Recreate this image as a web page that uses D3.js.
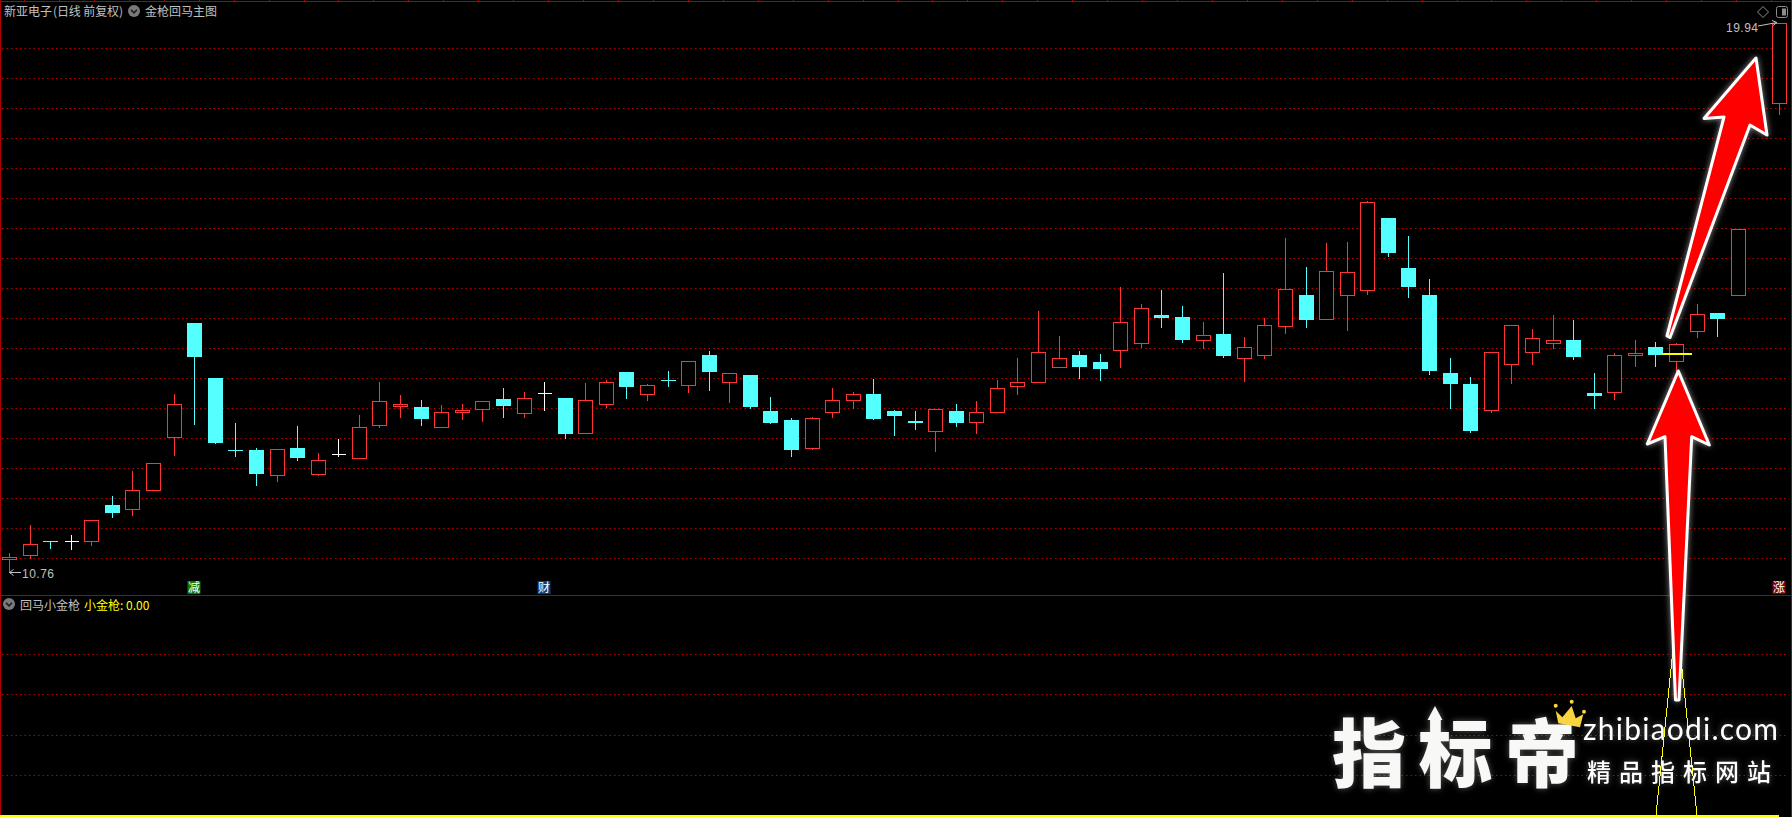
<!DOCTYPE html>
<html lang="zh">
<head>
<meta charset="utf-8">
<title>新亚电子 日线 前复权</title>
<script src="https://cdn.jsdelivr.net/npm/d3@7/dist/d3.min.js"></script>
<style>
html,body{margin:0;padding:0;background:#000;overflow:hidden}
svg{display:block}
text{font-family:"Noto Sans CJK SC","Noto Sans",sans-serif}
</style>
</head>
<body>
<svg id="chart" width="1792" height="817"></svg>
<script>
// ---- data (index 85 lies under the annotation arrow) ----
const opens = [10.98,11.05,11.28,11.28,11.28,11.88,11.82,12.14,13.01,14.92,
  14.00,12.80,12.80,12.38,12.83,12.40,12.74,12.67,13.21,13.54,
  13.52,13.18,13.44,13.49,13.65,13.41,13.75,13.67,13.09,13.57,
  14.10,13.73,13.97,13.89,14.38,13.94,14.05,13.45,13.30,12.84,
  13.44,13.64,13.73,13.45,13.28,13.11,13.45,13.26,13.44,13.86,
  13.93,14.18,14.38,14.27,14.46,14.58,15.05,15.02,14.63,14.73,
  14.33,14.38,14.86,15.38,14.99,15.38,15.46,16.67,15.83,15.38,
  14.08,13.90,13.46,14.23,14.44,14.59,14.63,13.75,13.76,14.38,
  14.52,14.29,14.79,15.08,15.38,null,18.59];
const closes = [11.01,11.24,11.27,11.28,11.63,11.75,12.14,12.58,13.56,14.35,
  12.92,12.79,12.40,12.81,12.67,12.63,12.74,13.19,13.61,13.56,
  13.32,13.43,13.46,13.61,13.53,13.66,13.75,13.07,13.64,13.94,
  13.85,13.88,13.96,14.28,14.10,14.08,13.52,13.25,12.80,13.34,
  13.64,13.74,13.32,13.37,13.25,13.48,13.25,13.44,13.84,13.94,
  14.43,14.33,14.18,14.15,14.93,15.16,15.00,14.63,14.71,14.37,
  14.51,14.88,15.49,14.97,15.78,15.76,16.94,16.08,15.52,14.12,
  13.90,13.12,14.43,14.88,14.66,14.63,14.35,13.70,14.39,14.41,
  14.38,14.56,15.06,14.98,16.48,null,19.92];
const highs = [11.10,11.57,11.30,11.40,11.65,12.05,12.47,12.58,13.75,14.93,
  14.00,13.27,12.85,12.83,13.22,12.77,13.00,13.40,13.95,13.73,
  13.65,13.57,13.58,13.61,13.85,13.78,13.95,13.67,13.93,13.98,
  14.10,13.92,14.13,14.28,14.47,14.08,14.07,13.70,13.35,13.37,
  13.85,13.78,14.00,13.48,13.47,13.48,13.58,13.63,13.98,14.35,
  15.13,14.72,14.47,14.42,15.53,15.25,15.48,15.22,14.95,15.77,
  14.70,15.02,16.35,15.87,16.27,16.28,16.97,16.68,16.38,15.67,
  14.35,14.03,14.43,14.90,14.83,15.07,14.98,14.10,14.43,14.65,
  14.62,14.60,15.25,15.08,16.48,null,19.94];
const lows = [10.76,11.00,11.17,11.15,11.22,11.68,11.72,12.14,12.72,13.23,
  12.92,12.70,12.22,12.28,12.63,12.38,12.70,12.67,13.18,13.35,
  13.22,13.18,13.32,13.28,13.35,13.35,13.47,13.00,13.09,13.52,
  13.67,13.63,13.87,13.77,13.80,13.60,13.50,13.25,12.70,12.82,
  13.35,13.50,13.32,13.05,13.15,12.78,13.20,13.08,13.44,13.73,
  13.93,14.18,14.00,13.97,14.18,14.52,14.85,14.60,14.50,14.35,
  13.95,14.33,14.75,14.85,14.99,14.80,15.40,16.03,15.35,14.07,
  13.50,13.10,13.43,13.92,14.23,14.50,14.32,13.50,13.65,14.20,
  14.20,14.10,14.68,14.70,15.38,null,18.40];

// lower panel "小金枪" indicator
const gun = [0,0,0,0,0,0,0,0,0,0,0,0,0,0,0,0,0,0,0,0,0,0,0,0,0,0,0,0,0,0,
  0,0,0,0,0,0,0,0,0,0,0,0,0,0,0,0,0,0,0,0,0,0,0,0,0,0,0,0,0,0,
  0,0,0,0,0,0,0,0,0,0,0,0,0,0,0,0,0,0,0,0,0,1,0,0,0,0,0];

const priceTicks = [11,11.5,12,12.5,13,13.5,14,14.5,15,15.5,16,16.5,17,17.5,18,18.5,19,19.5];
const gunTicks = [0.2,0.4,0.6,0.8];
const signalIndex = [9,26,86];
const signalText = ["减","财","涨"];
const goldLevel = 14.40, goldIndex = 81;
const minPrice = 10.76, maxPrice = 19.94;

// ---- scales ----
const svg = d3.select("#chart");
const x = d3.scaleLinear().domain([0,86]).range([9.5,1779.4]);
const y = d3.scaleLinear().domain([11,20]).range([558,18]);
const yGun = d3.scaleLinear().domain([0,1]).range([816,615]);
const cx = i => Math.floor(x(i)) + 0.5;
const cy = p => Math.round(y(p)) + 0.5;

const RED="#ff3434", CYAN="#54ffff", WHITE="#ffffff", GRID="#b40000", BORDER="#b00000", GREY="#c0c0c0", YEL="#ffff00";

// ---- frame ----
const frame = svg.append("g").attr("shape-rendering","crispEdges");
frame.append("rect").attr("width",1792).attr("height",817).attr("fill","#000");
frame.append("line").attr("x1",0).attr("x2",1792).attr("y1",1.5).attr("y2",1.5).attr("stroke",BORDER);
frame.append("line").attr("x1",0).attr("x2",1792).attr("y1",595.5).attr("y2",595.5).attr("stroke",BORDER);
frame.append("line").attr("x1",0.5).attr("x2",0.5).attr("y1",0).attr("y2",817).attr("stroke",BORDER);
frame.append("line").attr("x1",1791.5).attr("x2",1791.5).attr("y1",0).attr("y2",817).attr("stroke",BORDER);
frame.selectAll("line.tick").data(d3.range(24,1792,34.94)).join("line").attr("class","tick")
  .attr("x1",d=>Math.round(d)+.5).attr("x2",d=>Math.round(d)+.5).attr("y1",0).attr("y2",2).attr("stroke",BORDER);

// ---- grid ----
const grid = svg.append("g").attr("stroke",GRID).attr("stroke-dasharray","1.5 3").attr("stroke-width",1);
grid.selectAll("line.p").data(priceTicks).join("line").attr("class","p")
  .attr("x1",2).attr("x2",1787).attr("y1",d=>Math.round(y(d))+.5).attr("y2",d=>Math.round(y(d))+.5);
grid.selectAll("line.g").data(gunTicks).join("line").attr("class","g")
  .attr("x1",2).attr("x2",1787).attr("y1",d=>Math.round(yGun(d))-.5).attr("y2",d=>Math.round(yGun(d))-.5);

// ---- candles ----
const candles = d3.range(opens.length).filter(i=>opens[i]!==null)
  .map(i=>({i,o:opens[i],c:closes[i],h:highs[i],l:lows[i]}));
const colour = d => d.c>d.o ? RED : d.c<d.o ? CYAN : WHITE;
const cg = svg.append("g").attr("shape-rendering","crispEdges");
const candle = cg.selectAll("g").data(candles).join("g");
candle.append("line")
  .attr("x1",d=>cx(d.i)).attr("x2",d=>cx(d.i))
  .attr("y1",d=>cy(d.h)).attr("y2",d=>cy(d.l)+.5)
  .attr("stroke",colour);
candle.filter(d=>d.c>d.o).append("rect")
  .attr("x",d=>cx(d.i)-7).attr("width",14)
  .attr("y",d=>cy(d.c)).attr("height",d=>Math.max(1,cy(d.o)-cy(d.c)))
  .attr("fill","#000").attr("stroke",RED);
candle.filter(d=>d.c<d.o).append("rect")
  .attr("x",d=>cx(d.i)-7.5).attr("width",15)
  .attr("y",d=>Math.round(y(d.o))).attr("height",d=>Math.max(1,Math.round(y(d.c))-Math.round(y(d.o))))
  .attr("fill",CYAN);
candle.filter(d=>d.c===d.o).append("line")
  .attr("x1",d=>cx(d.i)-7).attr("x2",d=>cx(d.i)+7)
  .attr("y1",d=>cy(d.o)).attr("y2",d=>cy(d.o)).attr("stroke",WHITE);

// gold-gun signal level in the main panel
svg.append("line").attr("shape-rendering","crispEdges")
  .attr("x1",cx(goldIndex)-15).attr("x2",cx(goldIndex)+15.5)
  .attr("y1",y(goldLevel)).attr("y2",y(goldLevel)).attr("stroke",YEL).attr("stroke-width",2);

// ---- lower panel indicator ----
const gunLine = d3.line().x((d,i)=>x(i)).y(d=>yGun(d));
svg.append("path").datum(gun).attr("d",gunLine).attr("fill","none").attr("stroke",YEL)
  .attr("stroke-width",1).attr("shape-rendering","crispEdges");
svg.append("line").attr("x1",0).attr("x2",x(86)).attr("y1",yGun(0)).attr("y2",yGun(0))
  .attr("stroke",YEL).attr("stroke-width",2).attr("shape-rendering","crispEdges");

// ---- header text ----
function icon(px,py){
  const g = svg.append("g").attr("transform",`translate(${px},${py})`);
  g.append("circle").attr("r",6).attr("fill","#7a7a7a");
  g.append("path").attr("d","M-3,-1.2 L0,1.8 L3,-1.2").attr("fill","none").attr("stroke","#1c1c1c").attr("stroke-width",1.6);
}
function label(t,px,py,fill,size){
  return svg.append("text").attr("x",px).attr("y",py).attr("fill",fill).attr("font-size",size||12).text(t);
}
label("新亚电子",4,16,GREY);
label("(日线 前复权)",53,16,GREY).attr("textLength",70).attr("lengthAdjust","spacing");
icon(134,11);
label("金枪回马主图",145,16,GREY);
icon(9,604);
label("回马小金枪",20,610,GREY);
label("小金枪",84,610,YEL);
label(": "+d3.format(".2f")(gun[86]),120,610,YEL);

// ---- extreme price labels ----
const minG = svg.append("g").attr("stroke",GREY).attr("fill","none").attr("stroke-width",1);
minG.append("path").attr("d",`M${cx(0)},${cy(minPrice)} H21 M${cx(0)+4},${cy(minPrice)-3} L${cx(0)},${cy(minPrice)} L${cx(0)+4},${cy(minPrice)+3}`);
label(minPrice.toFixed(2),22,y(minPrice)+6,GREY,12).attr("letter-spacing",.5).attr("font-family","'Liberation Sans'").style("font-family","'Liberation Sans'");
const maxG = svg.append("g").attr("stroke",GREY).attr("fill","none").attr("stroke-width",1);
maxG.append("path").attr("d",`M1758,26 L1777,22.5 M1772,20.5 L1777,22.5 L1773,25.5`);
label(maxPrice.toFixed(2),1726,y(maxPrice)+10,GREY,12).attr("letter-spacing",.5).attr("font-family","'Liberation Sans'").style("font-family","'Liberation Sans'");

// ---- signal badges ----
const badgeFill = {"减":"#0a7a0a","财":"#0b3f7f","涨":"#800010"};
const badges = svg.append("g");
signalIndex.forEach((idx,k)=>{
  const px = Math.floor(x(idx))-6.5;
  badges.append("rect").attr("x",px).attr("y",581).attr("width",13).attr("height",13)
    .attr("fill",badgeFill[signalText[k]]);
  badges.append("text").attr("x",px+6.5).attr("y",592).attr("text-anchor","middle")
    .attr("font-size",12).attr("fill","#fff").text(signalText[k]);
});

// ---- top-right toolbar ----
const tb = svg.append("g").attr("fill","none").attr("stroke","#8c8c8c");
tb.append("path").attr("d","M1763,6.5 L1768.5,12 L1763,17.5 L1757.5,12 Z");
tb.append("rect").attr("x",1776.5).attr("y",6.5).attr("width",11).attr("height",11).attr("rx",2);
tb.append("rect").attr("x",1782).attr("y",8.5).attr("width",4).attr("height",7).attr("fill","#8c8c8c").attr("stroke","none");

// ---- annotation arrows ----
const arrows = [
  [[1756,58],[1767,135],[1750,125],[1670,337.5],[1667,336],[1724,117],[1704,118.5]],
  [[1678.3,371],[1709.3,445],[1691.7,436.7],[1679,700],[1675.5,700],[1665,436.7],[1647.3,444]]
];
const lineClosed = d3.line().curve(d3.curveLinearClosed);
svg.append("g").selectAll("path").data(arrows).join("path")
  .attr("d",d=>lineClosed(d))
  .attr("fill","#ff0000").attr("stroke","#ffffff").attr("stroke-width",3)
  .attr("stroke-linejoin","round")
  .style("filter","drop-shadow(0 0 3px rgba(255,255,255,.55))");

// ---- watermark ----
const wm = svg.append("g").style("filter","drop-shadow(0 0 3px rgba(255,255,255,.35))");
wm.append("text").attr("x",1332).attr("y",781).attr("font-size",74).attr("font-weight",900)
  .attr("letter-spacing",12.5).attr("fill","#f8f9f6").text("指标帝");
wm.append("path").attr("d","M1435,706 L1442.5,720 L1437.5,720 L1437.5,728 L1432.5,728 L1432.5,720 L1427.5,720 Z").attr("fill","#f8f9f6");
wm.append("text").attr("x",1583).attr("y",740).attr("font-size",30)
  .attr("fill","#fff").attr("textLength",195).attr("lengthAdjust","spacing").style("font-family","Lato").text("zhibiaodi.com");
wm.append("text").attr("x",1587).attr("y",781).attr("font-size",24).attr("font-weight",500)
  .attr("letter-spacing",8).attr("fill","#fff").text("精品指标网站");
const crown = svg.append("g").attr("fill","#f8d440");
crown.append("path").attr("d","M1555.7,710.7 L1562.3,717.3 L1571.7,706 L1575.7,718.3 L1583.3,714.3 L1580,727.3 L1558.3,723.3 Z");
crown.append("circle").attr("cx",1555.7).attr("cy",705.7).attr("r",2);
crown.append("circle").attr("cx",1571.7).attr("cy",701.7).attr("r",2);
crown.append("circle").attr("cx",1584).attr("cy",711.7).attr("r",2);
</script>
</body>
</html>
